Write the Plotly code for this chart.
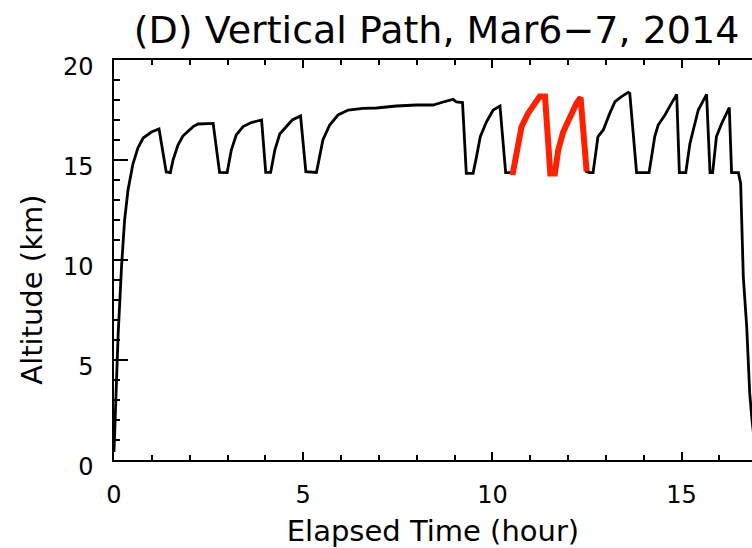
import plotly.graph_objects as go

# Flight altitude profile (black) - elapsed time (hour) and altitude (km)
time_h = [0.00, 0.05, 0.11, 0.20, 0.28, 0.37, 0.50, 0.63, 0.77, 0.99, 1.19,
          1.38, 1.49, 1.56, 1.69, 1.82, 2.09, 2.22, 2.62,
          2.79, 2.99, 3.10, 3.23, 3.41, 3.63, 3.90,
          4.01, 4.14, 4.25, 4.38, 4.56, 4.71, 4.93,
          5.07, 5.35, 5.44, 5.52, 5.70, 5.92, 6.19, 6.58, 6.94, 7.46, 7.99, 8.43, 8.70, 8.96, 9.05, 9.21,
          9.31, 9.49, 9.58, 9.68, 9.84, 10.02, 10.20,
          10.35, 10.50, 10.53, 10.64, 10.77, 10.94, 11.12, 11.25, 11.39,
          11.53, 11.65, 11.74, 11.87, 12.05, 12.22, 12.33,
          12.49, 12.57, 12.66, 12.79, 12.93, 13.10, 13.24, 13.41, 13.59, 13.63,
          13.81, 14.14, 14.29, 14.38, 14.56, 14.73, 14.87,
          14.94, 15.11, 15.22, 15.31, 15.44, 15.66,
          15.75, 15.82, 15.92, 16.06, 16.26,
          16.32, 16.50, 16.56, 16.59, 16.63, 16.72, 16.80, 16.86, 16.95]
altitude_km = [0.4, 3.3, 6.3, 9.7, 12.0, 13.5, 14.8, 15.6, 16.1, 16.4, 16.55,
               14.4, 14.37, 15.0, 15.75, 16.2, 16.67, 16.8, 16.83,
               14.38, 14.37, 15.5, 16.25, 16.67, 16.87, 17.0,
               14.38, 14.38, 15.5, 16.3, 16.7, 17.0, 17.2,
               14.42, 14.38, 15.3, 16.0, 16.75, 17.25, 17.5, 17.58, 17.6, 17.7, 17.75, 17.75, 17.9, 18.03, 17.9, 17.87,
               14.33, 14.33, 15.17, 16.17, 16.9, 17.5, 17.7,
               14.37, 14.37, 14.3, 15.33, 16.67, 17.33, 17.83, 18.17, 18.17,
               14.33, 14.33, 15.5, 16.4, 17.17, 17.83, 18.13,
               14.42, 14.37, 14.37, 16.17, 16.5, 17.33, 17.92, 18.17, 18.38, 18.33,
               14.37, 14.37, 16.17, 16.75, 17.25, 17.83, 18.28,
               14.37, 14.37, 15.83, 16.5, 17.5, 18.28,
               14.37, 14.37, 16.17, 16.83, 17.62,
               14.37, 14.37, 13.83, 11.67, 9.17, 6.67, 3.33, 2.0, 0.5]

# Highlighted segment (red)
red_time_h = [10.53, 10.64, 10.77, 10.94, 11.12, 11.25, 11.39,
              11.53, 11.65, 11.74, 11.87, 12.05, 12.22, 12.33, 12.49]
red_altitude_km = [14.25, 15.33, 16.67, 17.33, 17.83, 18.17, 18.17,
                   14.33, 14.33, 15.5, 16.4, 17.17, 17.83, 18.13, 14.42]

x_tickvals = [0, 5, 10, 15]
y_tickvals = [0, 5, 10, 15, 20]

FONT = "DejaVu Sans"

fig = go.Figure()
fig.add_trace(go.Scatter(x=time_h, y=altitude_km, mode="lines",
                         line=dict(color="black", width=2.8), showlegend=False))
fig.add_trace(go.Scatter(x=red_time_h, y=red_altitude_km, mode="lines",
                         line=dict(color="#ff2000", width=6), showlegend=False))

fig.update_layout(
    width=752, height=548,
    margin=dict(l=114, r=0, t=60, b=88, autoexpand=False),
    paper_bgcolor="white", plot_bgcolor="white",
    font=dict(family=FONT, color="black", size=24),
    title=dict(text="(D) Vertical Path, Mar6\u22127, 2014",
               font=dict(family=FONT, size=38, color="black"),
               x=436.5 / 752, xref="container", xanchor="center",
               y=1 - 30 / 548, yref="container", yanchor="middle",
               automargin=False),
    xaxis=dict(range=[0, 16.86], tickvals=x_tickvals, ticks="inside",
               ticklen=8, tickwidth=1.5, tickcolor="black",
               minor=dict(dtick=1, ticks="inside", ticklen=5, tickwidth=1.5, tickcolor="black"),
               showline=True, linecolor="black", linewidth=1.5, mirror="allticks",
               showgrid=False, zeroline=False, automargin=False,
               tickfont=dict(family=FONT, size=24, color="black"),
               ticklabelstandoff=12,
               title=dict(text="Elapsed Time (hour)", standoff=18,
                          font=dict(family=FONT, size=29, color="black"))),
    yaxis=dict(range=[0, 20], tickvals=y_tickvals, ticks="inside",
               ticklen=14, tickwidth=1.5, tickcolor="black",
               minor=dict(dtick=1, ticks="inside", ticklen=6, tickwidth=1.5, tickcolor="black"),
               showline=True, linecolor="black", linewidth=1.5, mirror=False,
               showgrid=False, zeroline=False, automargin=False,
               tickfont=dict(family=FONT, size=24, color="black"),
               ticklabelstandoff=14, ticklabelshift=7),
    yaxis2=dict(range=[0, 20], overlaying="y", side="right", anchor="x",
                tickvals=y_tickvals, ticks="inside", ticklen=9, tickwidth=1.5,
                tickcolor="black", showticklabels=False, showline=False,
                minor=dict(dtick=1, ticks="inside", ticklen=4, tickwidth=1.5, tickcolor="black"),
                showgrid=False, zeroline=False, automargin=False),
    annotations=[dict(text="Altitude (km)", textangle=-90, showarrow=False,
                      xref="paper", yref="paper",
                      x=(31.7 - 114) / 638, y=(460 - 290) / 400,
                      xanchor="center", yanchor="middle",
                      font=dict(family=FONT, size=29, color="black"))],
)

fig.write_html("out.html", config={"displayModeBar": False},
               post_script="document.body.style.margin='0';document.body.style.overflow='hidden';")
